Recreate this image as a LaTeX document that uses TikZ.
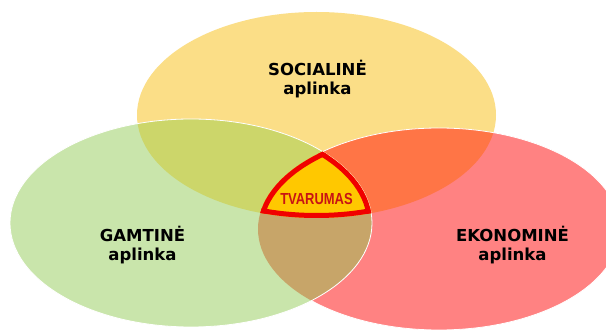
\documentclass[tikz,border=0pt]{standalone}
\usepackage{fontspec}
\setmainfont{DejaVu Sans}
\newfontfamily\lblfont{DejaVu Sans}
\newfontfamily\tvfont[FakeStretch=0.81]{Liberation Sans}
\definecolor{cyel}{RGB}{251,222,135}
\definecolor{cgrn}{RGB}{201,229,171}
\definecolor{cred}{RGB}{255,130,130}
\definecolor{colive}{RGB}{204,214,106}
\definecolor{corange}{RGB}{255,117,70}
\definecolor{cbrown}{RGB}{199,165,105}
\definecolor{cgold}{RGB}{255,200,0}
\definecolor{cborder}{RGB}{240,0,0}
\definecolor{ctv}{RGB}{200,20,20}
\def\vennY{(316.5,115) ellipse [x radius=179.5,y radius=103]}
\def\vennG{(191,223) ellipse [x radius=181,y radius=104]}
\def\vennR{(439,229) ellipse [x radius=181,y radius=101]}
\tikzset{
  lbl/.style={font=\lblfont\bfseries\fontsize{16.5}{19}\selectfont, text=black, inner sep=0pt, anchor=base},
  tvlbl/.style={font=\tvfont\bfseries\fontsize{16}{19}\selectfont, text=ctv, inner sep=0pt, anchor=base},
  edge/.style={draw=white, line width=0.8pt}
}
\begin{document}
\begin{tikzpicture}[x=1pt,y=-1pt]
\useasboundingbox (0,0) rectangle (606,331);
\clip (0,0) rectangle (606,331);
\fill[white] (0,0) rectangle (606,331);
% base circles
\fill[cyel] \vennY;
\fill[cred] \vennR;
\fill[cgrn] \vennG;
% pairwise overlaps
\begin{scope}
  \clip \vennY;
  \fill[colive] \vennG;
  \fill[corange] \vennR;
\end{scope}
\begin{scope}
  \clip \vennG;
  \fill[cbrown] \vennR;
\end{scope}
% thin white edges
\begin{scope}[even odd rule]
  \clip (-10,-10) rectangle (620,340) \vennG;
  \path[edge] \vennR;
\end{scope}
\path[edge] \vennG;
% centre region
\begin{scope}
  \clip \vennY;
  \clip \vennG;
  \clip \vennR;
  \fill[cgold] (0,0) rectangle (606,331);
  \draw[cborder, line width=10pt] \vennY;
  \draw[cborder, line width=10pt] \vennG;
  \draw[cborder, line width=10pt] \vennR;
\end{scope}
% labels
\node[lbl] (soc) at (317.5,76) {SOCIALINĖ};
\node[lbl] (soca) at (317.5,95) {aplinka};
\node[lbl] (gam) at (142.5,242) {GAMTINĖ};
\node[lbl] (gama) at (142.5,261) {aplinka};
\node[lbl] (eko) at (512.5,242) {EKONOMINĖ};
\node[lbl] (ekoa) at (512.5,261) {aplinka};
\node[tvlbl] (tv) at (316.5,204.5) {TVARUMAS};
\end{tikzpicture}
\end{document}
